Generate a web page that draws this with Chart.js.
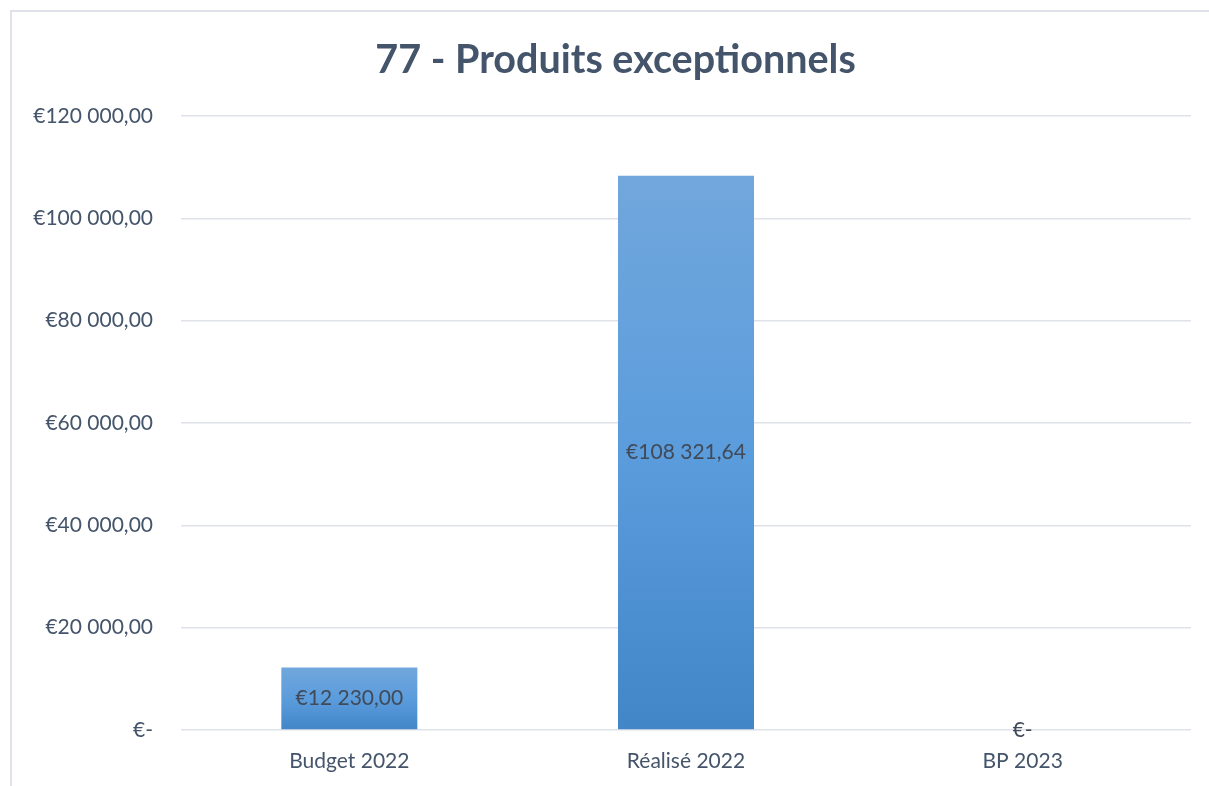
<!DOCTYPE html>
<html>
<head>
<meta charset="utf-8">
<script src="https://cdn.jsdelivr.net/npm/chart.js@4"></script>
<style>
  html, body { margin: 0; padding: 0; background: #fff; overflow: hidden; }
  #wrap { position: relative; width: 1209px; height: 786px; }
  #frame { position: absolute; left: 10px; top: 10px; width: 1240px; height: 820px;
           border: 2px solid #dfe2e8; box-sizing: border-box; }
  #chart { position: absolute; left: 0; top: 0; }
</style>
</head>
<body>
<div id="wrap">
  <div id="frame"></div>
  <canvas id="chart" width="1209" height="786"></canvas>
</div>
<script>
const categories = ["Budget 2022", "Réalisé 2022", "BP 2023"]
const montants = [12230.00, 108321.64, 0]
const yTicks = [0, 20000, 40000, 60000, 80000, 100000, 120000]
const titre = "77 - Produits exceptionnels"

const slate = "#44546a"

function euro(v) {
  if (v === 0) return "€-"
  const parts = v.toFixed(2).split(".")
  const ent = parts[0].replace(/\B(?=(\d{3})+(?!\d))/g, " ")
  return "€" + ent + "," + parts[1]
}

// titre centré sur le cadre (qui commence à x=10)
const chartTitle = {
  id: "chartTitle",
  afterDraw(chart) {
    const ctx = chart.ctx
    ctx.save()
    ctx.font = "bold 39.5px Lato"
    ctx.fillStyle = slate
    ctx.textAlign = "center"
    ctx.textBaseline = "middle"
    ctx.fillText(titre, chart.width / 2 + 11, 60)
    ctx.restore()
  }
}

// étiquettes de valeur au milieu de chaque barre
const valueLabels = {
  id: "valueLabels",
  afterDatasetsDraw(chart) {
    const ctx = chart.ctx
    const meta = chart.getDatasetMeta(0)
    ctx.save()
    ctx.font = "21px Lato"
    ctx.fillStyle = "#404a58"
    ctx.textAlign = "center"
    ctx.textBaseline = "middle"
    meta.data.forEach((bar, i) => {
      const y = (bar.y + bar.base) / 2
      ctx.fillText(euro(montants[i]), bar.x, y)
    })
    ctx.restore()
  }
}

function barGradient(context) {
  const chart = context.chart
  const y = chart.scales.y
  if (!y || context.type !== "data") return "#5b9bd5"
  const top = y.getPixelForValue(context.raw)
  const bottom = y.getPixelForValue(0)
  if (!isFinite(top) || top === bottom) return "#5b9bd5"
  const g = chart.ctx.createLinearGradient(0, top, 0, bottom)
  g.addColorStop(0, "#71a7dc")
  g.addColorStop(0.5, "#5b9cdc")
  g.addColorStop(1, "#4286c8")
  return g
}

new Chart("chart", {
  type: "bar",
  data: {
    labels: categories,
    datasets: [{
      data: montants,
      backgroundColor: barGradient,
      borderWidth: 0,
      categoryPercentage: 1,
      barPercentage: 0.404
    }]
  },
  options: {
    responsive: false,
    animation: false,
    layout: { padding: { left: 10, right: 18, top: 116, bottom: 14 } },
    plugins: {
      legend: { display: false },
      tooltip: { enabled: false },
      title: { display: false }
    },
    scales: {
      x: {
        afterFit(scale) { scale.height = 42 },
        grid: { display: false, drawTicks: false },
        border: { display: false },
        ticks: { color: slate, font: { family: "Lato", size: 21 }, padding: 19 }
      },
      y: {
        min: 0,
        max: 120000,
        afterBuildTicks(scale) { scale.ticks = yTicks.map(v => ({ value: v })) },
        afterFit(scale) { scale.width = 171 },
        grid: { color: "#dfe2e8", lineWidth: 1.5, drawTicks: false },
        border: { display: false },
        ticks: {
          color: slate,
          font: { family: "Lato", size: 21 },
          padding: 28,
          callback: v => euro(v)
        }
      }
    }
  },
  plugins: [valueLabels, chartTitle]
})
</script>
</body>
</html>
